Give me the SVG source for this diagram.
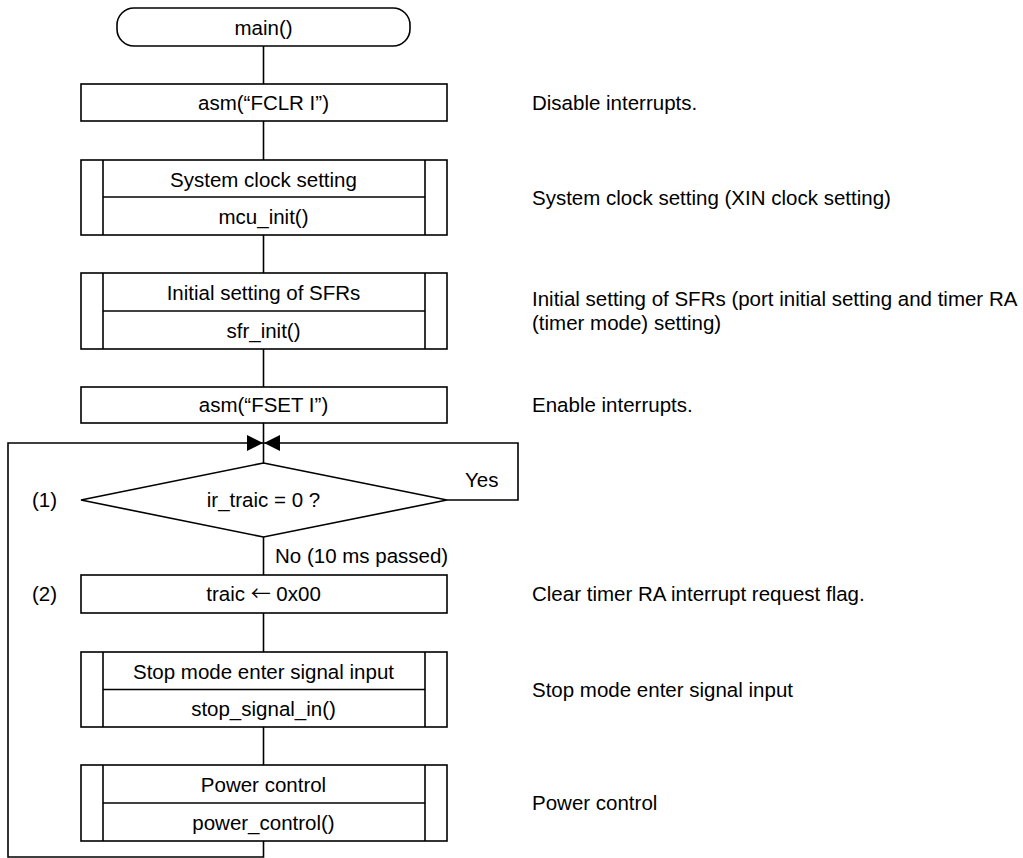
<svg xmlns="http://www.w3.org/2000/svg" width="1023" height="858" viewBox="0 0 1023 858">
  <style>
    .shape { fill: #ffffff; stroke: #000000; stroke-width: 1.6; }
    .line { fill: none; stroke: #000000; stroke-width: 1.6; }
    .t { font-family: "Liberation Sans", Arial, sans-serif; font-size: 20.5px; fill: #000000; }
    .c { text-anchor: middle; }
    .sym { font-family: "Noto Sans CJK JP", "DejaVu Sans", sans-serif; font-size: 20px; }
  </style>
  <defs>
    <marker id="arrow" markerUnits="userSpaceOnUse" markerWidth="17" markerHeight="17" refX="16" refY="8" orient="auto">
      <path d="M0,0 L16,8 L0,16 z" fill="#000000"/>
    </marker>
  </defs>
  <rect width="1023" height="858" fill="#ffffff"/>

  <!-- connectors -->
  <g id="connectors">
    <line class="line" x1="263.5" y1="46" x2="263.5" y2="84"/>
    <line class="line" x1="263.5" y1="121" x2="263.5" y2="160"/>
    <line class="line" x1="263.5" y1="235" x2="263.5" y2="273"/>
    <line class="line" x1="263.5" y1="349" x2="263.5" y2="387"/>
    <line class="line" x1="263.5" y1="423" x2="263.5" y2="463"/>
    <line class="line" x1="263.5" y1="537" x2="263.5" y2="575"/>
    <line class="line" x1="263.5" y1="613" x2="263.5" y2="652"/>
    <line class="line" x1="263.5" y1="727" x2="263.5" y2="765"/>
    <!-- loop back from the end of the main loop -->
    <path class="line" d="M263.5,841 V857 H8 V443 H263" marker-end="url(#arrow)"/>
    <!-- Yes branch back to the decision -->
    <path class="line" d="M447,500 H518 V443 H264" marker-end="url(#arrow)"/>
    <text class="t" x="465" y="487">Yes</text>
    <text class="t" x="275" y="563">No (10 ms passed)</text>
  </g>

  <g id="n-main">
    <rect class="shape" x="117" y="8" width="293" height="38" rx="17" ry="17"/>
    <text class="t c" x="263.5" y="34.5">main()</text>
  </g>

  <g id="n-fclr">
    <rect class="shape" x="81" y="84" width="366" height="37"/>
    <text class="t c" x="263.5" y="110">asm(“FCLR I”)</text>
    <text class="t" x="532" y="110">Disable interrupts.</text>
  </g>

  <g id="n-mcu-init">
    <rect class="shape" x="81" y="160" width="366" height="75"/>
    <line class="line" x1="103" y1="160" x2="103" y2="235"/>
    <line class="line" x1="425" y1="160" x2="425" y2="235"/>
    <line class="line" x1="103" y1="197" x2="425" y2="197"/>
    <text class="t c" x="263.5" y="187">System clock setting</text>
    <text class="t c" x="263.5" y="224">mcu_init()</text>
    <text class="t" x="532" y="205">System clock setting (XIN clock setting)</text>
  </g>

  <g id="n-sfr-init">
    <rect class="shape" x="81" y="273" width="366" height="76"/>
    <line class="line" x1="103" y1="273" x2="103" y2="349"/>
    <line class="line" x1="425" y1="273" x2="425" y2="349"/>
    <line class="line" x1="103" y1="311" x2="425" y2="311"/>
    <text class="t c" x="263.5" y="300">Initial setting of SFRs</text>
    <text class="t c" x="263.5" y="337.5">sfr_init()</text>
    <text class="t" x="532" y="306">Initial setting of SFRs (port initial setting and timer RA</text>
    <text class="t" x="532" y="330">(timer mode) setting)</text>
  </g>

  <g id="n-fset">
    <rect class="shape" x="81" y="387" width="366" height="36"/>
    <text class="t c" x="263.5" y="412">asm(“FSET I”)</text>
    <text class="t" x="532" y="412">Enable interrupts.</text>
  </g>

  <g id="n-decision">
    <polygon class="shape" points="263.5,463 447,500 263.5,537 81,500"/>
    <text class="t c" x="263.5" y="507">ir_traic = 0 ?</text>
    <text class="t" x="32" y="507">(1)</text>
  </g>

  <g id="n-traic">
    <rect class="shape" x="81" y="575" width="366" height="38"/>
    <text class="t c" x="263.5" y="601">traic <tspan class="sym">←</tspan> 0x00</text>
    <text class="t" x="32" y="601">(2)</text>
    <text class="t" x="532" y="601">Clear timer RA interrupt request flag.</text>
  </g>

  <g id="n-stop-signal">
    <rect class="shape" x="81" y="652" width="366" height="75"/>
    <line class="line" x1="103" y1="652" x2="103" y2="727"/>
    <line class="line" x1="425" y1="652" x2="425" y2="727"/>
    <line class="line" x1="103" y1="689.5" x2="425" y2="689.5"/>
    <text class="t c" x="263.5" y="678.5">Stop mode enter signal input</text>
    <text class="t c" x="263.5" y="716">stop_signal_in()</text>
    <text class="t" x="532" y="697">Stop mode enter signal input</text>
  </g>

  <g id="n-power-control">
    <rect class="shape" x="81" y="765" width="366" height="76"/>
    <line class="line" x1="103" y1="765" x2="103" y2="841"/>
    <line class="line" x1="425" y1="765" x2="425" y2="841"/>
    <line class="line" x1="103" y1="803" x2="425" y2="803"/>
    <text class="t c" x="263.5" y="791.5">Power control</text>
    <text class="t c" x="263.5" y="829.5">power_control()</text>
    <text class="t" x="532" y="810">Power control</text>
  </g>
</svg>
